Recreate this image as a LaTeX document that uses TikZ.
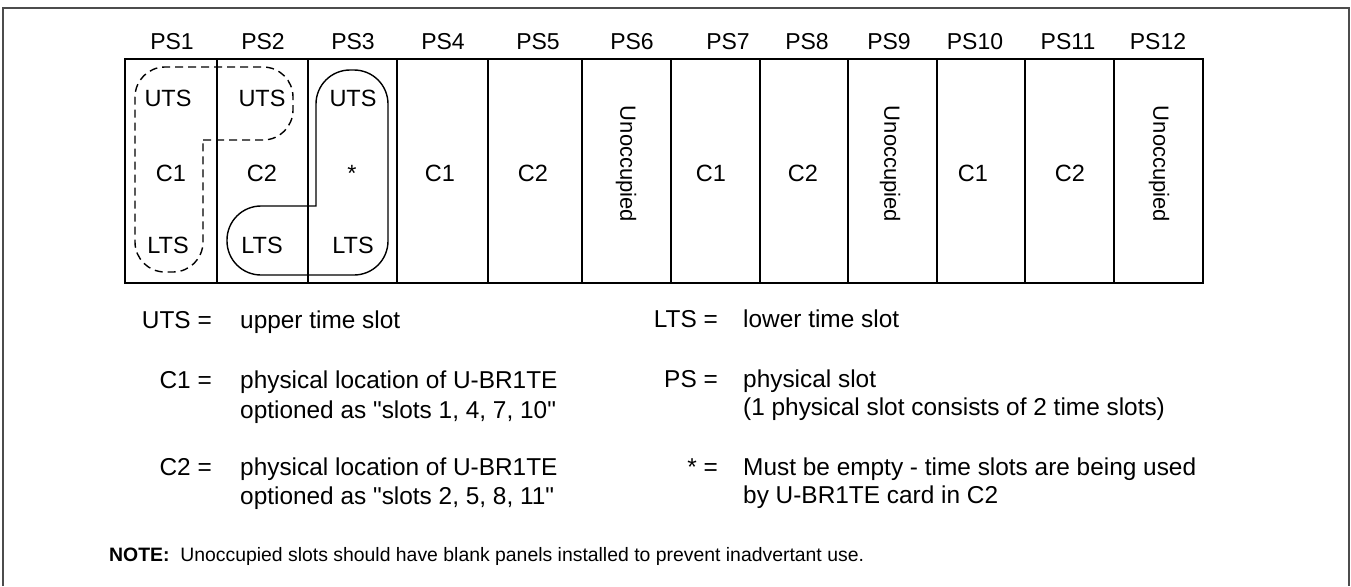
\documentclass[tikz,border=0pt]{standalone}
\usepackage{fontspec}
\setmainfont{Liberation Sans}[Ligatures=TeXOff]
\begin{document}
\begin{tikzpicture}[x=1pt,y=-1pt,
  grid/.style={line width=1.4pt, draw=black},
  pslbl/.style={font=\fontsize{23}{27}\selectfont, inner sep=0pt, anchor=base},
  lbl/.style={font=\fontsize{23.5}{27}\selectfont, inner sep=0pt, anchor=base},
  vlbl/.style={font=\fontsize{22}{25}\selectfont, inner sep=0pt, rotate=-90},
  legk/.style={font=\fontsize{24.4}{28}\selectfont, inner sep=0pt, anchor=base east},
  legv/.style={font=\fontsize{24.4}{28}\selectfont, inner sep=0pt, anchor=base west},
  notetext/.style={font=\fontsize{19.4}{23}\selectfont, inner sep=0pt, anchor=base west},
  frame/.style={line width=1.6pt, draw=black!70},
  dashloop/.style={line width=1.4pt, dash pattern=on 8pt off 5pt},
  solidloop/.style={line width=1.4pt, line cap=rect}]
\useasboundingbox (0,0) rectangle (1351,586);
% outer frame (open at the bottom)
\draw[frame] (3,586) -- (3,8) -- (1349,8) -- (1349,586);
% slot grid
\draw[grid] (125,59) rectangle (1203,283);
\foreach \x in {217,308,397,488,582,671,760,848,937,1025,1114}
  \draw[grid] (\x,59) -- (\x,283);
\draw[line width=2.6pt] (687,59) -- (700,59);
\draw[line width=2.6pt] (684,283) -- (702,283);
% PS labels
\foreach \n/\x in {1/172,2/263,3/353,4/443,5/538,6/632,7/728,8/807,9/889,10/975,11/1068,12/1158}
  \node[pslbl] (ps\n) at (\x,50) {PS\n};
% slot contents
\node[lbl] (u1) at (168,106) {UTS};
\node[lbl] (m1) at (171,181) {C1};
\node[lbl] (l1) at (168,253) {LTS};
\node[lbl] (u2) at (262,106) {UTS};
\node[lbl] (m2) at (262,181) {C2};
\node[lbl] (l2) at (262,253) {LTS};
\node[lbl] (u3) at (353,106) {UTS};
\node[lbl] (m3) at (352,181) {*};
\node[lbl] (l3) at (353,253) {LTS};
\node[lbl] (m4) at (440,181) {C1};
\node[lbl] (m5) at (533,181) {C2};
\node[vlbl] (m6) at (626,164) {Unoccupied};
\node[lbl] (m7) at (711,181) {C1};
\node[lbl] (m8) at (803,181) {C2};
\node[vlbl] (m9) at (890,164) {Unoccupied};
\node[lbl] (m10) at (973,181) {C1};
\node[lbl] (m11) at (1070,181) {C2};
\node[vlbl] (m12) at (1159,164) {Unoccupied};
% C1 group (dashed)
\draw[dashloop] (203,140) [rounded corners=30pt] -- (293,140) -- (293,67) -- (135,67) -- (135,272) -- (203,272) -- (203,140);
% C2 group (solid)
\draw[solidloop] (316,206) [rounded corners=34pt] -- (316,70) -- (388,70) -- (388,275) -- (227,275) -- (227,206) -- (316,206);
% legend, left column
\node[legk] (kuts) at (212,328) {UTS =};
\node[legv] (vuts) at (240,328) {upper time slot};
\node[legk] (kc1) at (212,388) {C1 =};
\node[legv] (vc1a) at (240,388) {physical location of U-BR1TE};
\node[legv] (vc1b) at (240,418) {optioned as "slots 1, 4, 7, 10"};
\node[legk] (kc2) at (212,475) {C2 =};
\node[legv] (vc2a) at (240,475) {physical location of U-BR1TE};
\node[legv] (vc2b) at (240,504) {optioned as "slots 2, 5, 8, 11"};
% legend, right column
\node[legk] (klts) at (718,327) {LTS =};
\node[legv] (vlts) at (743,327) {lower time slot};
\node[legk] (kps) at (718,387) {PS =};
\node[legv] (vpsa) at (743,387) {physical slot};
\node[legv] (vpsb) at (743,415) {(1 physical slot consists of 2 time slots)};
\node[legk] (kst) at (718,475) {* =};
\node[legv] (vsta) at (743,475) {Must be empty - time slots are being used};
\node[legv] (vstb) at (743,503) {by U-BR1TE card in C2};
% note
\node[notetext] (note) at (109,561) {\textbf{NOTE:}\ \ Unoccupied slots should have blank panels installed to prevent inadvertant use.};
\end{tikzpicture}
\end{document}
